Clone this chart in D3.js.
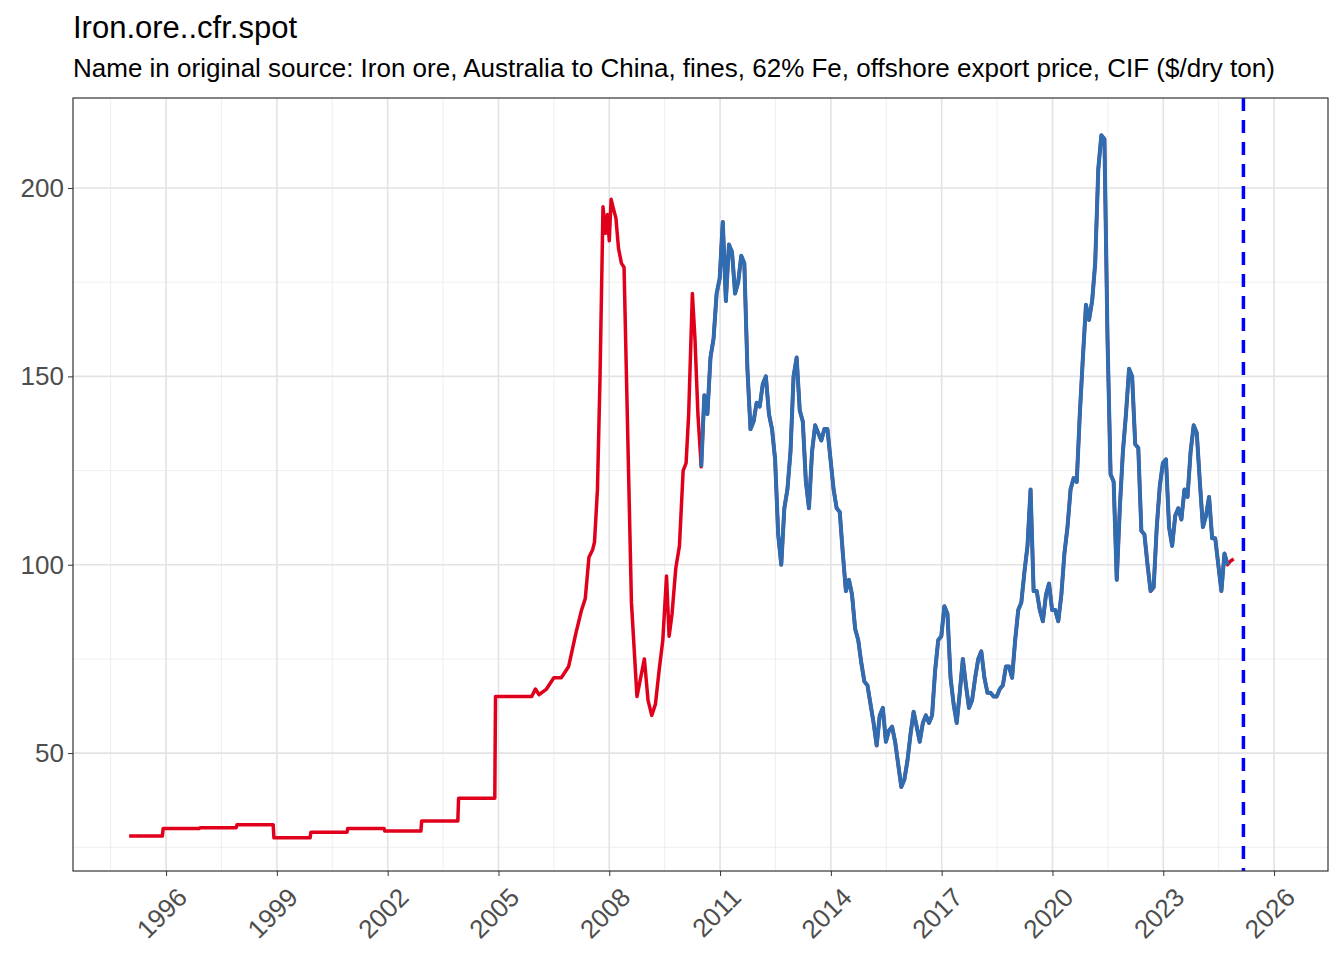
<!DOCTYPE html><html><head><meta charset="utf-8"><script src="https://cdn.jsdelivr.net/npm/d3@7"></script>
<style>body{margin:0;background:#fff}text{font-family:"Liberation Sans",Arial,sans-serif}</style></head><body><svg id="c" width="1344" height="960"></svg>
<script>
const title="Iron.ore..cfr.spot";
const subtitle="Name in original source: Iron ore, Australia to China, fines, 62% Fe, offshore export price, CIF ($/dry ton)";
// early history [year, $/dry ton]
const earlyData=[[1995.0,28],[1995.9,28],[1995.92,30],[1996.9,30],[1996.92,30.2],[1997.9,30.2],[1997.92,31],[1998.9,31],[1998.92,27.5],[1999.9,27.5],[1999.92,29],[2000.9,29],[2000.92,30],[2001.9,30],[2001.92,29.3],[2002.9,29.3],[2002.92,32],[2003.9,32],[2003.92,38],[2004.9,38],[2004.92,65],[2005.8,65],[2005.9,65],[2006.0,67],[2006.1,65.5],[2006.3,67],[2006.5,70],[2006.7,70],[2006.9,73],[2007.1,82],[2007.25,88],[2007.35,91],[2007.45,102],[2007.55,104],[2007.6,106],[2007.68,120],[2007.75,150],[2007.83,195],[2007.9,188],[2007.95,193],[2008.0,186],[2008.05,197],[2008.1,195],[2008.18,192],[2008.25,184],[2008.33,180],[2008.4,179],[2008.6,90],[2008.75,65],[2008.85,70],[2008.95,75],[2009.05,64],[2009.15,60],[2009.25,63],[2009.35,72],[2009.45,80],[2009.55,97],[2009.62,81],[2009.7,87],[2009.8,99],[2009.9,105],[2010.0,125],[2010.08,127],[2010.15,140],[2010.25,172],[2010.32,160],[2010.4,140]];
// monthly from 2010.49
const lateStart=2010.49;
const lateValues=[126,145,140,155,160,172,176,191,170,185,183,172,175,182,180,152,136,138,143,142,148,150,140,136,128,108,100,115,120,130,150,155,141,138,122,115,130,137,135,133,136,136,128,120,115,114,103,93,96,92,83,80,74,69,68,63,58,52,60,62,53,56,57,53,47,41,43,48,55,61,57,53,58,60,58,60,72,80,81,89,87,70,63,58,66,75,68,62,64,70,75,77,70,66,66,65,65,67,68,73,73,70,80,88,90,98,105,120,93,93,88,85,92,95,88,88,85,92,103,110,120,123,122,140,155,169,165,170,180,205,214,213,160,124,122,96,115,130,140,152,150,132,131,109,108,100,93,94,110,121,127,128,110,105,113,115,112,120,118,130,137,135,122,110,113,118,107,107,100,93,103,100,101,101.5];
const lateData=lateValues.map((v,i)=>[lateStart+i/12,v]);
const data=earlyData.concat(lateData);
const blueData=lateData.slice(0,lateData.length-2);
const vline=2025.17;
const xTicks=[1996,1999,2002,2005,2008,2011,2014,2017,2020,2023,2026];
const yTicks=[50,100,150,200];
const L=73,R=1328,T=98,B=871;
const svg=d3.select("#c");
const x=d3.scaleLinear().domain([1993.48,2027.46]).range([L,R]);
const y=d3.scaleLinear().domain([18.7,223.9]).range([B,T]);
const g=svg.append("g");
[25,75,125,175].forEach(v=>g.append("line").attr("x1",L).attr("x2",R).attr("y1",y(v)).attr("y2",y(v)).attr("stroke","#ebebeb").attr("stroke-width",0.8));
xTicks.map(t=>t-1.5).filter(t=>t>1993.48&&t<2027.46).forEach(v=>g.append("line").attr("y1",T).attr("y2",B).attr("x1",x(v)).attr("x2",x(v)).attr("stroke","#ebebeb").attr("stroke-width",0.8));
yTicks.forEach(v=>g.append("line").attr("x1",L).attr("x2",R).attr("y1",y(v)).attr("y2",y(v)).attr("stroke","#e3e3e3").attr("stroke-width",1.6));
xTicks.forEach(v=>g.append("line").attr("y1",T).attr("y2",B).attr("x1",x(v)).attr("x2",x(v)).attr("stroke","#e3e3e3").attr("stroke-width",1.6));
const line=d3.line().x(d=>x(d[0])).y(d=>y(d[1]));
g.append("path").datum(data).attr("d",line).attr("fill","none").attr("stroke","#E0001B").attr("stroke-width",3.5).attr("stroke-linejoin","round");
g.append("path").datum(blueData).attr("d",line).attr("fill","none").attr("stroke","#2F6DB0").attr("stroke-width",4).attr("stroke-linejoin","round");
g.append("line").attr("x1",x(vline)).attr("x2",x(vline)).attr("y1",T).attr("y2",B).attr("stroke","#0000FF").attr("stroke-width",3.5).attr("stroke-dasharray","13,9");
g.append("rect").attr("x",L).attr("y",T).attr("width",R-L).attr("height",B-T).attr("fill","none").attr("stroke","#333").attr("stroke-width",1.2);
const ya=svg.append("g").attr("transform",`translate(${L},0)`).call(d3.axisLeft(y).tickValues(yTicks).tickSize(5).tickPadding(4));
const xa=svg.append("g").attr("transform",`translate(0,${B})`).call(d3.axisBottom(x).tickValues(xTicks).tickFormat(d3.format("d")).tickSize(5));
[ya,xa].forEach(a=>{a.select(".domain").remove();a.selectAll("line").attr("stroke","#333");a.selectAll("text").attr("fill","#4d4d4d").style("font-size","26px");});
xa.selectAll("text").attr("text-anchor","end").attr("transform","translate(10,16) rotate(-45)").attr("dy","0.35em");
svg.append("text").attr("x",73).attr("y",38).text(title).style("font-size","31px").attr("fill","#000");
svg.append("text").attr("x",73).attr("y",77).text(subtitle).style("font-size","26px").attr("fill","#000");
</script></body></html>
